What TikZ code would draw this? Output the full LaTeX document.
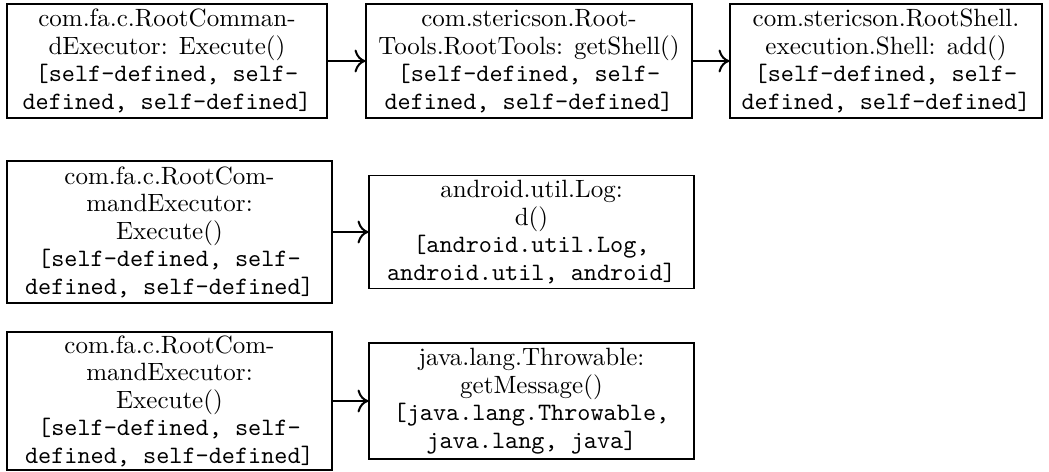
\documentclass[tikz,border=0pt]{standalone}
\usetikzlibrary{arrows.meta}
\begin{document}
\begin{tikzpicture}[x=0.4pt,y=-0.4pt,
  box/.style={draw, line width=0.45pt, align=center, inner sep=0pt,
    font=\fontsize{10}{11}\selectfont},
  arr/.style={-{To[scale=1.3]}, line width=0.8pt}]
\useasboundingbox (0,0) rectangle (1049,472);
% row 1
\node[box, minimum width=128pt, minimum height=45.6pt] (a) at (167,61)
  {com.fa.c.RootComman-\\dExecutor: Execute()\\\texttt{[self-defined, self-}\\\texttt{defined, self-defined]}};
\node[box, minimum width=130.4pt, minimum height=45.6pt] (b) at (529,61)
  {com.stericson.Root-\\Tools.RootTools: getShell()\\\texttt{[self-defined, self-}\\\texttt{defined, self-defined]}};
\node[box, minimum width=124.8pt, minimum height=45.6pt] (c) at (886,61)
  {com.stericson.RootShell.\\execution.Shell: add()\\\texttt{[self-defined, self-}\\\texttt{defined, self-defined]}};
% row 2
\node[box, minimum width=130pt, minimum height=56.8pt] (d) at (169.5,232)
  {com.fa.c.RootCom-\\mandExecutor:\\Execute()\\\texttt{[self-defined, self-}\\\texttt{defined, self-defined]}};
\node[box, minimum width=130pt, minimum height=45.2pt] (e) at (531.5,232)
  {android.util.Log:\\d()\\\texttt{[android.util.Log,}\\\texttt{android.util, android]}};
% row 3
\node[box, minimum width=130pt, minimum height=55.2pt] (f) at (169.5,401)
  {com.fa.c.RootCom-\\mandExecutor:\\Execute()\\\texttt{[self-defined, self-}\\\texttt{defined, self-defined]}};
\node[box, minimum width=130pt, minimum height=46.4pt] (g) at (531.5,401)
  {java.lang.Throwable:\\getMessage()\\\texttt{[java.lang.Throwable,}\\\texttt{java.lang, java]}};
\draw[arr] (a) -- (b);
\draw[arr] (b) -- (c);
\draw[arr] (d) -- (e);
\draw[arr] (f) -- (g);
\end{tikzpicture}
\end{document}
